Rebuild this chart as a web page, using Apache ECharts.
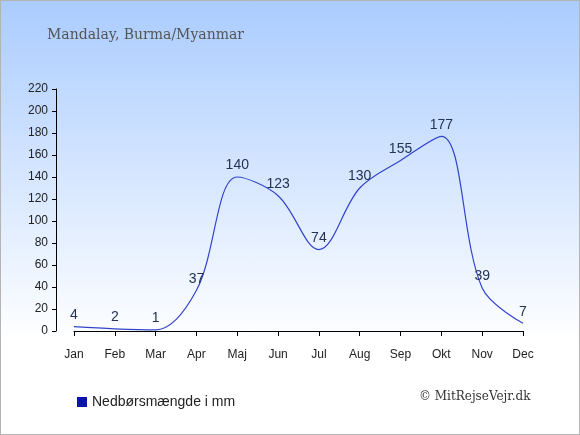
<!DOCTYPE html>
<html><head><meta charset="utf-8">
<script src="https://cdn.jsdelivr.net/npm/echarts@6/dist/echarts.min.js"></script>
<style>html,body{margin:0;padding:0;}#c{width:580px;height:435px;box-sizing:border-box;border:1px solid #b4b4b4;background:linear-gradient(to bottom,#aaccff 0px,#ffffff 340px,#ffffff 435px);}</style>
</head><body><div id="c"></div>
<script>
const months = ['Jan','Feb','Mar','Apr','Maj','Jun','Jul','Aug','Sep','Okt','Nov','Dec'];
const rainfall = [4,2,1,37,140,123,74,130,155,177,39,7];
const titleText = 'Mandalay, Burma/Myanmar';
const legendText = 'Nedbørsmængde i mm';
const creditText = '© MitRejseVejr.dk';
const chart = echarts.init(document.getElementById('c'), null, {renderer:'canvas'});
chart.setOption({
  backgroundColor: 'transparent',
  animation: false,
  title: {text: titleText, left: 41, top: 22, textStyle: {fontFamily: 'DejaVu Serif', fontWeight: 'normal', fontSize: 14, color: '#555555'}},
  grid: {left: 73, right: 56, top: 88, bottom: 103, containLabel: false},
  legend: {show: true, left: 71, top: 389, itemWidth: 10, itemHeight: 10, icon: 'rect', itemGap: 6,
    textStyle: {fontFamily: 'Liberation Sans', fontSize: 14, color: '#222'},
    data: [{name: legendText, itemStyle: {color: '#0a14aa', opacity: 1}}]},
  graphic: [{type: 'text', left: 418, top: 390, style: {text: creditText, font: '12px "DejaVu Serif"', fill: '#333'}}],
  xAxis: {type: 'category', data: months, boundaryGap: false, offset: 10,
    axisLine: {lineStyle: {color: '#000', width: 1}}, axisTick: {alignWithLabel: true, length: 5, lineStyle: {color: '#000'}},
    axisLabel: {fontFamily: 'Liberation Sans', fontSize: 12, color: '#222', margin: 8}, splitLine: {show: false}},
  yAxis: {type: 'value', min: 0, max: 220, interval: 20, offset: 18,
    axisLine: {show: true, lineStyle: {color: '#000', width: 1}}, axisTick: {show: true, length: 4, lineStyle: {color: '#000'}},
    axisLabel: {fontFamily: 'Liberation Sans', fontSize: 12, color: '#222', margin: 8}, splitLine: {show: false}},
  series: [{name: legendText, type: 'line', data: rainfall, smooth: 0.35, symbol: 'circle', symbolSize: 1, showSymbol: true,
    itemStyle: {color: '#0a14aa', opacity: 0}, lineStyle: {color: '#3344cc', width: 1.2, opacity: 1},
    label: {show: true, position: 'top', distance: 4, fontFamily: 'Liberation Sans', fontSize: 14, color: '#223355', opacity: 1}}]
});
</script></body></html>
